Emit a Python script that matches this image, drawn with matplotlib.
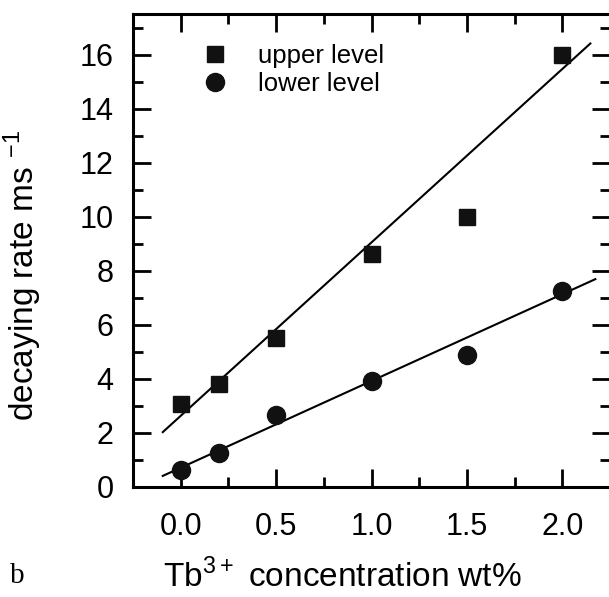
import matplotlib
matplotlib.use('Agg')
import matplotlib.pyplot as plt
from matplotlib.ticker import MultipleLocator

plt.rcParams['font.family'] = ['Liberation Sans', 'DejaVu Sans']
plt.rcParams['mathtext.fontset'] = 'custom'
plt.rcParams['mathtext.rm'] = 'Liberation Sans'

# data
conc = [0.0, 0.2, 0.5, 1.0, 1.5, 2.0]
upper = [3.07, 3.81, 5.5, 8.61, 9.98, 16.0]
lower = [0.63, 1.26, 2.66, 3.92, 4.88, 7.24]

# fitted lines (end points as drawn)
upper_fit_x = [-0.094, 2.146]
upper_fit_y = [2.03, 16.41]
lower_fit_x = [-0.094, 2.172]
lower_fit_y = [0.41, 7.69]

fig = plt.figure(figsize=(6.09, 5.97), dpi=100)
ax = fig.add_axes([0.2184, 0.1843, 0.7816 + 0.002, 0.7922])

ax.plot(upper_fit_x, upper_fit_y, color='black', lw=1.5)
ax.plot(lower_fit_x, lower_fit_y, color='black', lw=1.5)
ax.plot(conc, upper, 's', color='#111111', ms=12, label='upper level', clip_on=False)
ax.plot(conc, lower, 'o', color='#111111', ms=13, label='lower level', clip_on=False)

ax.set_xlim(-0.25, 2.25)
ax.set_ylim(0, 17.5)
ax.xaxis.set_major_locator(MultipleLocator(0.5))
ax.xaxis.set_minor_locator(MultipleLocator(0.25))
ax.yaxis.set_major_locator(MultipleLocator(2))
ax.yaxis.set_minor_locator(MultipleLocator(1))
ax.xaxis.set_major_formatter(plt.FuncFormatter(lambda v, p: '%.1f' % v))

ax.tick_params(which='both', direction='in', top=True, right=True, width=2, labelsize=22)
ax.tick_params(which='major', length=13)
ax.tick_params(which='minor', length=7)
ax.tick_params(axis='y', pad=14)
ax.tick_params(axis='x', pad=18)
for s in ax.spines.values():
    s.set_linewidth(2.2)

ax.set_xlabel('Tb$^{3+}$ concentration wt%', fontsize=24)
ax.xaxis.set_label_coords(0.439, -0.153)
ax.set_ylabel('decaying rate ms $^{-1}$', fontsize=24)
ax.yaxis.set_label_coords(-0.186, 0.447)

ax.legend(loc='upper left', bbox_to_anchor=(0.097, 0.958), frameon=False, fontsize=18.5,
          handletextpad=0.68, labelspacing=0.15, borderaxespad=0)

fig.text(10 / 609, 1 - 583 / 597, 'b', fontsize=21, family='Liberation Serif')

fig.savefig('out.png', dpi=100)
